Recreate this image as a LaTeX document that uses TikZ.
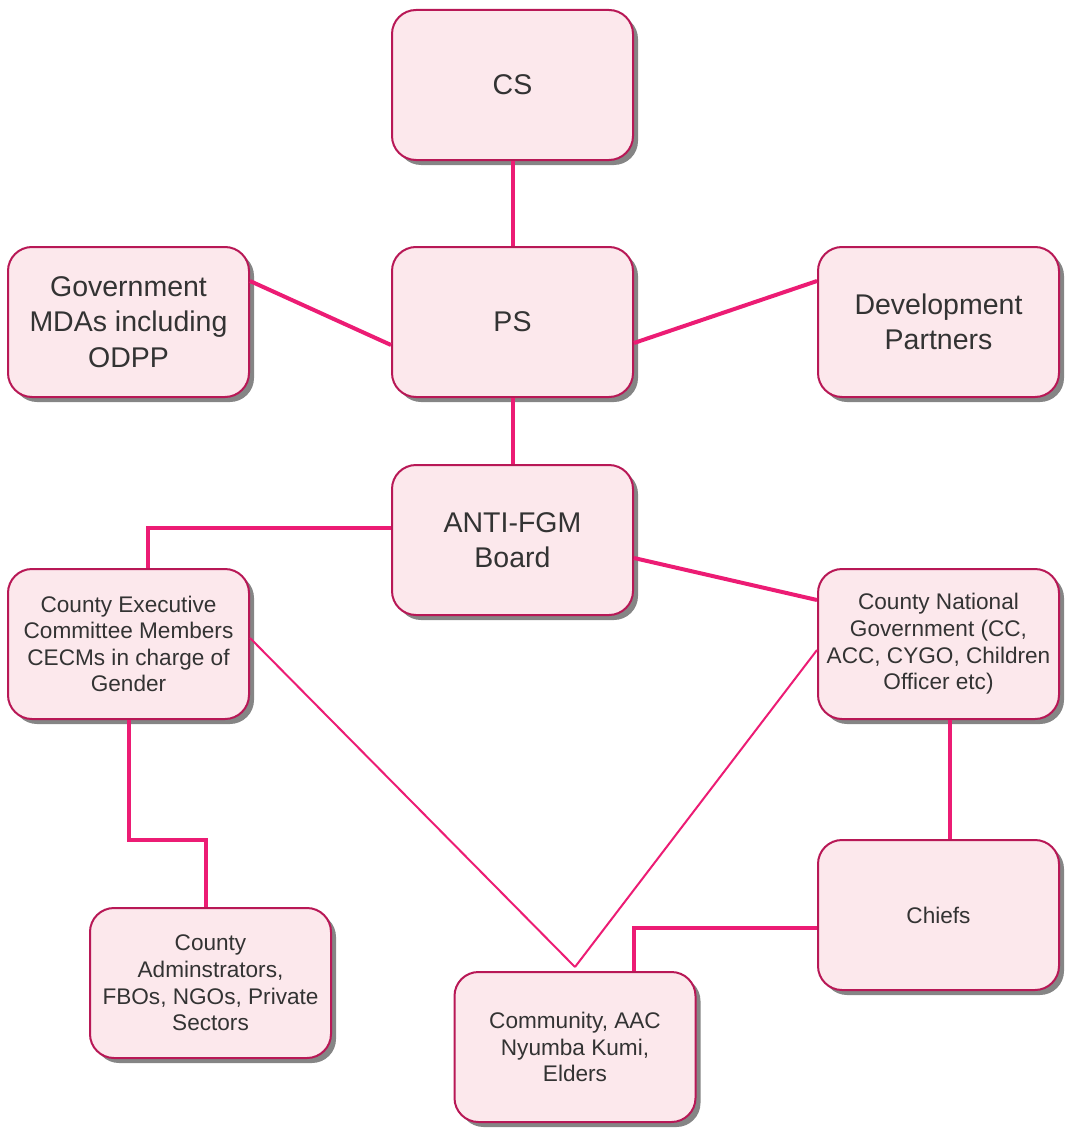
\documentclass[tikz,border=0pt]{standalone}
\usepackage{fontspec}
\setmainfont{Liberation Sans}
\usetikzlibrary{shadows}

\definecolor{boxfill}{HTML}{FCE8EC}
\definecolor{boxline}{HTML}{B81856}
\definecolor{linkpink}{HTML}{EC1C74}

\tikzset{
	orgbox/.style={rectangle, rounded corners=24pt, draw=boxline, line width=2pt,
		fill=boxfill, minimum width=241pt, minimum height=150pt, align=center,
		text=black!80, font=\fontsize{28.5}{35.5}\selectfont,
		drop shadow={shadow xshift=5pt, shadow yshift=-5pt, opacity=.6, fill=black!80}},
	smalltext/.style={font=\fontsize{22.6}{26.6}\selectfont},
	link/.style={linkpink, line width=4pt},
	thinlink/.style={linkpink, line width=2pt}
}

\begin{document}
\begin{tikzpicture}[x=1pt, y=-1pt]
	\useasboundingbox (0,0) rectangle (1070,1129);

	% boxes
	\node[orgbox] (cs) at (512.5,85) {CS};
	\node[orgbox] (ps) at (512.5,322) {PS};
	\node[orgbox] (gov) at (128.5,322) {Government\\MDAs including\\ODPP};
	\node[orgbox] (dev) at (938.5,322) {Development\\Partners};
	\node[orgbox] (board) at (512.5,540) {ANTI-FGM\\Board};
	\node[orgbox, smalltext] (cecm) at (128.5,644) {County Executive\\Committee Members\\CECMs in charge of\\Gender};
	\node[orgbox, smalltext] (cnat) at (938.5,644) {County National\\Government (CC,\\ACC, CYGO, Children\\Officer etc)};
	\node[orgbox, smalltext] (chiefs) at (938.5,915) {Chiefs};
	\node[orgbox, smalltext] (cadmin) at (210.5,983) {County\\Adminstrators,\\FBOs, NGOs, Private\\Sectors};
	\node[orgbox, smalltext] (comm) at (575,1047) {Community, AAC\\Nyumba Kumi,\\Elders};

	% connectors
	\draw[link] (cs) -- (ps);
	\draw[link] ([yshift=41pt]gov.east) -- ([yshift=-23pt]ps.west);
	\draw[link] ([yshift=-21pt]ps.east) -- ([yshift=41pt]dev.west);
	\draw[link] (ps) -- (board);
	\draw[link] ([yshift=12pt]board.west) -| ([xshift=19pt]cecm.north);
	\draw[link] ([yshift=-18pt]board.east) -- ([yshift=44pt]cnat.west);
	\draw[thinlink] ([yshift=6pt]cecm.east) -- ([yshift=4pt]comm.north);
	\draw[thinlink] ([yshift=-6pt]cnat.west) -- ([yshift=4pt]comm.north);
	\draw[link] (cecm.south) -- ++(0,120) -| ([xshift=-5pt]cadmin.north);
	\draw[link] ([xshift=11pt]cnat.south) -- ([xshift=11pt]chiefs.north);
	\draw[link] ([yshift=-13pt]chiefs.west) -| ([xshift=59pt]comm.north);
\end{tikzpicture}
\end{document}
